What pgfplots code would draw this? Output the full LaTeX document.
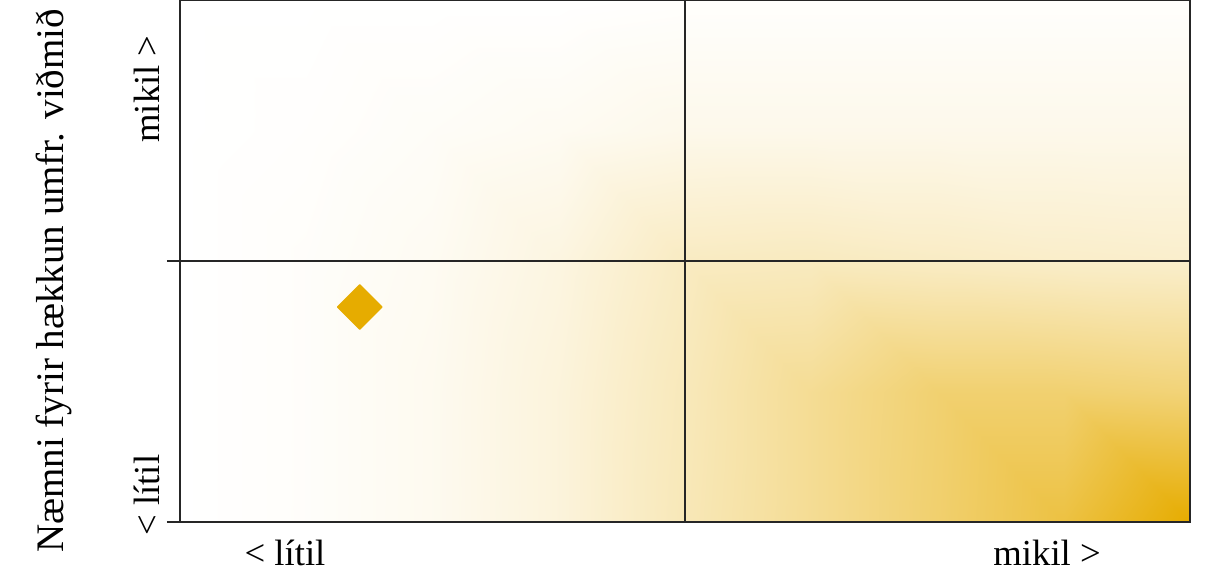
\documentclass[border=0pt]{standalone}
\usepackage{fontspec}
\setmainfont{Liberation Serif}
\usepackage{pgfplots}
\pgfplotsset{compat=1.18}
\usepackage{pgfplotstable}
\definecolor{gold}{RGB}{230,172,0}
\pgfplotstableread{
x y t
0 0 0
0.25 0 0.02
0.5 0 0.06
0.75 0 0.14
1 0 0.28
1.25 0 0.42
1.5 0 0.57
1.75 0 0.74
2 0 1.0
0 0.5 0
0.25 0.5 0.02
0.5 0.5 0.06
0.75 0.5 0.14
1 0.5 0.27
1.25 0.5 0.42
1.5 0.5 0.56
1.75 0.5 0.56
2 0.5 0.53
0 1 0
0.25 1 0.02
0.5 1 0.05
0.75 1 0.12
1 1 0.24
1.25 1 0.25
1.5 1 0.23
1.75 1 0.21
2 1 0.20
0 1.5 0
0.25 1.5 0.01
0.5 1.5 0.03
0.75 1.5 0.05
1 1.5 0.08
1.25 1.5 0.08
1.5 1.5 0.08
1.75 1.5 0.08
2 1.5 0.08
0 2 0
0.25 2 0
0.5 2 0
0.75 2 0
1 2 0.01
1.25 2 0.01
1.5 2 0.01
1.75 2 0.01
2 2 0.01
}\bgtable
\begin{document}
\begin{tikzpicture}
\begin{axis}[
  at={(0,0)}, anchor=south west,
  scale only axis,
  width=303pt, height=156.6pt,
  xmin=0, xmax=2, ymin=0, ymax=2,
  enlargelimits=false,
  axis on top,
  axis line style={black!85, line width=0.55pt},
  colormap={goldmap}{rgb255=(255,255,255) rgb255=(230,172,0)},
  point meta min=0, point meta max=1,
  xtick={0.208,1.717},
  xticklabels={{< lítil},{mikil >}},
  ytick={0.103,1.659},
  yticklabels={{< lítil},{mikil >}},
  major tick length=0pt,
  tick style={black!85, line width=0.55pt},
  xticklabel style={anchor=base, yshift=-12.9pt, font=\fontsize{11}{13}\selectfont},
  yticklabel style={xshift=-6pt, rotate=90, anchor=base, font=\fontsize{11}{13}\selectfont},
  extra y ticks={0,1},
  extra y tick labels={},
  extra y tick style={major tick length=3.9pt, tick align=outside, tick pos=left},
  ylabel={Næmni fyrir hækkun umfr. viðmið},
  ylabel style={at={(axis description cs:-0.1149,0.462)}, anchor=base, font=\fontsize{11.7}{14}\selectfont},
]
\addplot[surf, shader=interp, mesh/cols=9, point meta=\thisrow{t}] table[x=x, y=y] {\bgtable};
\addplot[black!85, line width=0.55pt] coordinates {(1,0) (1,2)};
\addplot[black!85, line width=0.55pt] coordinates {(0,1) (2,1)};
\addplot[only marks, mark=square*, mark size=4.7pt, mark options={rotate=45, fill=gold, draw=gold, line join=round}] coordinates {(0.356,0.824)};
\end{axis}
\pgfresetboundingbox
\path[use as bounding box] (-54pt,-16.8pt) rectangle (309.3pt,156.6pt);
\end{tikzpicture}
\end{document}
